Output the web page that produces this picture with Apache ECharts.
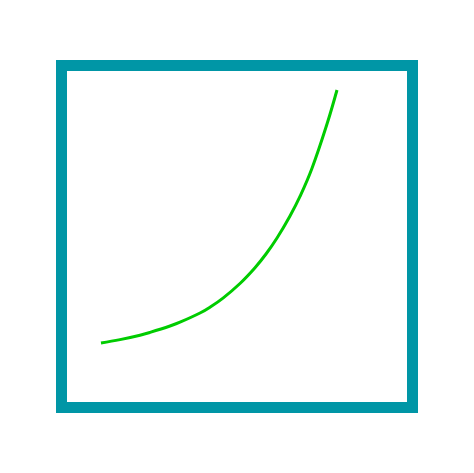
<!DOCTYPE html>
<html>
<head>
<meta charset="utf-8">
<script src="https://cdn.jsdelivr.net/npm/echarts@6/dist/echarts.min.js"></script>
<style>html,body{margin:0;padding:0;background:#fff}#c{width:474px;height:473px}</style>
</head>
<body>
<div id="c"></div>
<script>
var xValues = [11.25, 16.67, 22.36, 25.21, 30.91, 33.76, 39.46, 42.31, 46.01, 50.85, 55.13, 58.26, 61.40, 65.10, 67.95, 71.37, 75.64, 78.49];
var yValues = [18.86, 19.85, 21.14, 21.96, 23.83, 24.94, 27.63, 29.33, 31.99, 36.26, 40.88, 44.88, 49.56, 56.02, 61.73, 69.97, 82.89, 92.84];

var data = xValues.map(function (x, i) { return [x, yValues[i]]; });
var chart = echarts.init(document.getElementById('c'), null, {renderer: 'canvas'});
chart.setOption({
  animation: false,
  backgroundColor: '#ffffff',
  grid: {
    left: 61.5, top: 65.5, right: 61.5, bottom: 65.5,
    show: true, borderColor: '#0096a6', borderWidth: 11, backgroundColor: 'transparent'
  },
  xAxis: {type: 'value', min: 0, max: 100, show: false},
  yAxis: {type: 'value', min: 0, max: 100, show: false},
  series: [{
    type: 'line',
    data: data,
    smooth: 0.4,
    showSymbol: false,
    lineStyle: {color: '#00cc00', width: 3}
  }]
});
</script>
</body>
</html>
